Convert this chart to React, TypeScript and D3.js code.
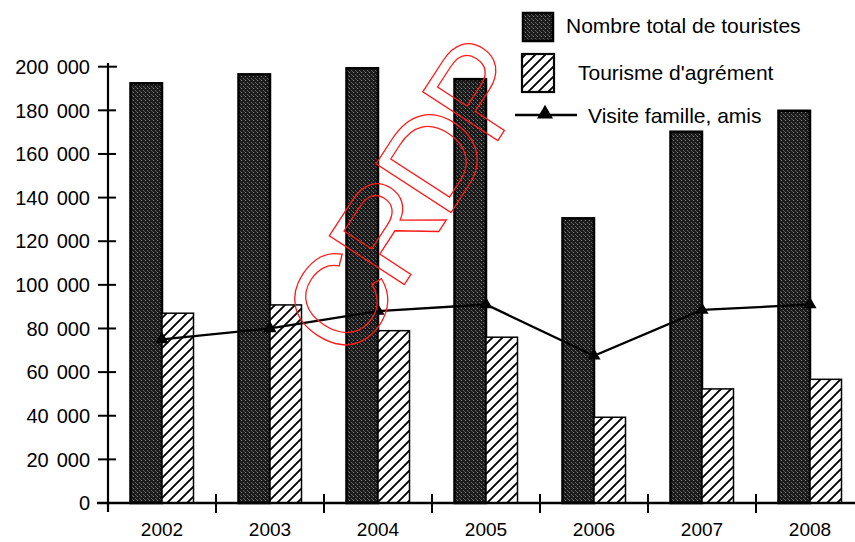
import React from "react";
import * as d3 from "d3";

const years = ["2002", "2003", "2004", "2005", "2006", "2007", "2008"];
const totalTourists = [192400, 196500, 199300, 194300, 130500, 170200, 179800];
const leisureTourism = [87000, 90800, 79000, 76000, 39300, 52300, 56700];
const familyVisits = [75000, 80000, 88000, 91000, 67500, 88500, 91000];
const yTicks = [0, 20000, 40000, 60000, 80000, 100000, 120000, 140000, 160000, 180000, 200000];
const seriesKeys = ["total", "agrement"];
const legendLabels = ["Nombre total de touristes", "Tourisme d'agrément", "Visite famille, amis"];
const watermark = "CRDP";

const W = 855;
const H = 542;
const FONT = "'Liberation Sans', Arial, sans-serif";

export default function App() {
  const x = d3.scaleBand<string>().domain(years).range([108, 864]).paddingInner(0).paddingOuter(0);
  const xs = d3.scaleBand<string>().domain(seriesKeys).range([0, x.bandwidth()]).paddingInner(0).paddingOuter(0.714);
  const y = d3.scaleLinear().domain([0, 200000]).range([503, 66.7]);
  const fmt = (v: number) => d3.format(",")(v).replace(/,/g, "\u2009\u2009");

  const center = (yr: string) => (x(yr) as number) + x.bandwidth() / 2;
  const line = d3
    .line<number>()
    .x((_, i) => center(years[i]))
    .y((d) => y(d));
  const tri = d3.symbol().type(d3.symbolTriangle).size(75)() as string;

  const boundaries = years.map((yr) => x(yr) as number).slice(1);

  return (
    <svg
      width={W}
      height={H}
      viewBox={`0 0 ${W} ${H}`}
      style={{ position: "absolute", left: 0, top: 0, background: "#fff" }}
      fontFamily={FONT}
    >
      <defs>
        <pattern id="dark" patternUnits="userSpaceOnUse" width="4" height="4">
          <rect width="4" height="4" fill="#1a1a1a" />
          <rect x="1" y="0" width="1" height="1" fill="#8a8a8a" />
          <rect x="3" y="2" width="1" height="1" fill="#6a6a6a" />
          <rect x="0" y="3" width="1" height="1" fill="#555" />
        </pattern>
        <pattern id="hatch" patternUnits="userSpaceOnUse" width="10" height="10">
          <rect width="10" height="10" fill="#fff" />
          <path d="M-1,11 L11,-1 M-3,3 L3,-3 M7,13 L13,7" stroke="#000" strokeWidth="1.9" />
        </pattern>
      </defs>

      {/* bars */}
      {years.map((yr, i) => {
        const x0 = x(yr) as number;
        const bw = xs.bandwidth();
        return (
          <g key={yr}>
            <rect
              x={x0 + (xs("total") as number)}
              y={y(totalTourists[i])}
              width={bw}
              height={y(0) - y(totalTourists[i])}
              fill="url(#dark)"
              stroke="#000"
              strokeWidth={2.5}
            />
            <rect
              x={x0 + (xs("agrement") as number)}
              y={y(leisureTourism[i])}
              width={bw}
              height={y(0) - y(leisureTourism[i])}
              fill="url(#hatch)"
              stroke="#000"
              strokeWidth={1.5}
            />
          </g>
        );
      })}

      {/* line series */}
      <path d={line(familyVisits) as string} fill="none" stroke="#000" strokeWidth={2.3} />
      {familyVisits.map((v, i) => (
        <path key={i} d={tri} transform={`translate(${center(years[i])},${y(v)})`} fill="#000" />
      ))}

      {/* y axis */}
      <line x1={108} x2={108} y1={63} y2={512} stroke="#000" strokeWidth={2.2} />
      {yTicks.map((t) => (
        <g key={t}>
          <line x1={98} x2={t === 200000 ? 117 : 116} y1={y(t)} y2={y(t)} stroke="#000" strokeWidth={2} />
          <text x={90} y={y(t)} dy="0.36em" textAnchor="end" fontSize={20} fill="#000">
            {fmt(t)}
          </text>
        </g>
      ))}

      {/* x axis */}
      <line x1={97} x2={855} y1={y(0)} y2={y(0)} stroke="#000" strokeWidth={2.5} />
      {boundaries.map((b) => (
        <line key={b} x1={b} x2={b} y1={494} y2={513} stroke="#000" strokeWidth={2} />
      ))}
      {years.map((yr) => (
        <text key={yr} x={center(yr)} y={536} textAnchor="middle" fontSize={19} fill="#000">
          {yr}
        </text>
      ))}

      {/* legend */}
      <rect x={523} y={13} width={30} height={28} fill="url(#dark)" stroke="#000" strokeWidth={2.5} />
      <text x={566} y={33} fontSize={21} fill="#000">{legendLabels[0]}</text>
      <rect x={522} y={54} width={32} height={38} fill="url(#hatch)" stroke="#000" strokeWidth={2.2} />
      <text x={578} y={80} fontSize={21} fill="#000">{legendLabels[1]}</text>
      <line x1={515} x2={577} y1={115} y2={115} stroke="#000" strokeWidth={2.5} />
      <path d={d3.symbol().type(d3.symbolTriangle).size(110)() as string} transform="translate(545,114)" fill="#000" />
      <text x={588} y={123} fontSize={21} fill="#000">{legendLabels[2]}</text>

      {/* watermark stamp */}
      <text
        transform="translate(404,199) rotate(-57)"
        textAnchor="middle"
        dy="0.36em"
        fontSize={130}
        letterSpacing={-8}
        fill="none"
        stroke="#ff1a1a"
        strokeWidth={1.3}
        fontFamily={FONT}
      >
        {watermark}
      </text>
    </svg>
  );
}
